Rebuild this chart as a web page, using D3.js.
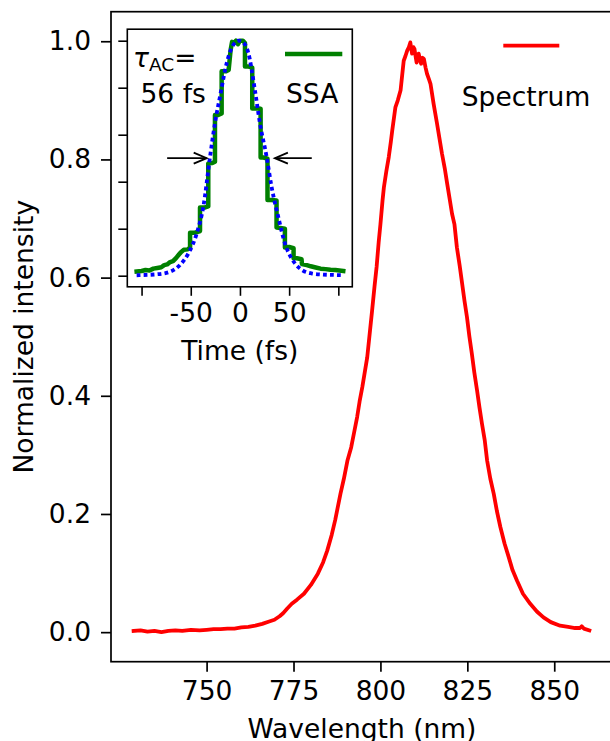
<!DOCTYPE html>
<html>
<head>
<meta charset="utf-8">
<script src="https://cdn.jsdelivr.net/npm/d3@7"></script>
<style>
  html, body { margin: 0; padding: 0; background: #fff; }
  svg { display: block; }
  text { font-family: "DejaVu Sans", sans-serif; fill: #000; }
</style>
</head>
<body>
<script>
// ---------------- DATA ----------------
// Main spectrum: wavelength (nm) and normalized intensity
const wavelength = [729.0,731,733,735,737,739,741,743,745.5,748,750,752,754,756,758,760,762,764,766,768,769.5,771,772,773.2,774.5,776,778,780,782,783.5,784.7,786,787,788.5,789.5,790.5,791.6,792.5,793.3,794,794.8,795.5,796.2,797,797.6,798.3,798.9,799.5,800.0,800.6,801.0,801.7,802.4,803.0,803.4,804.3,805,805.8,806.3,806.7,807.2,807.7,808.2,808.6,809.1,809.5,809.8,810.1,810.4,810.7,811.0,811.4,811.7,812.1,812.5,813.0,813.4,814.0,814.4,815.3,816.3,817.0,817.7,818.5,819.2,820,820.6,821.3,822.0,822.8,823.5,824.2,824.9,825.6,826.3,827,827.8,828.5,829.2,830,830.7,831.6,832.6,833.5,834.5,835.7,836.9,838,839.3,841,843.1,845,846.9,849,851.7,854,856,857.4,857.9,858.5,860.1];
const spectrum = [0.002,0.003,0.001,0.002,0.000,0.002,0.003,0.002,0.004,0.003,0.004,0.005,0.005,0.006,0.006,0.008,0.009,0.011,0.014,0.018,0.021,0.027,0.032,0.040,0.048,0.055,0.065,0.080,0.099,0.118,0.138,0.165,0.190,0.234,0.260,0.290,0.313,0.340,0.364,0.390,0.415,0.440,0.465,0.510,0.544,0.585,0.618,0.660,0.690,0.730,0.753,0.780,0.804,0.830,0.849,0.888,0.900,0.917,0.945,0.967,0.975,0.984,0.990,0.998,0.979,0.990,0.987,0.975,0.964,0.972,0.979,0.968,0.962,0.972,0.970,0.955,0.945,0.935,0.928,0.894,0.860,0.835,0.810,0.785,0.759,0.730,0.708,0.690,0.651,0.620,0.590,0.560,0.533,0.500,0.471,0.440,0.409,0.380,0.353,0.325,0.290,0.260,0.234,0.205,0.178,0.150,0.127,0.105,0.087,0.065,0.048,0.035,0.025,0.017,0.011,0.009,0.007,0.007,0.010,0.006,0.003];

// Inset: SSA autocorrelation (stepped trace)
const ssaTime = [-105,-100,-96,-92,-88,-84,-80,-77,-74,-71,-68,-65,-62,-60,-57,-53,-50.7,-50.7,-46,-43,-40.6,-40.6,-36,-32.2,-32.2,-28,-25.4,-25.4,-22,-18.6,-18.6,-14,-11.5,-9.5,-8,-6,-4,-2,0,3,5.1,5.1,9,12.5,12.5,17,21,21,24,28,28,32,37.2,37.2,41,45.7,45.7,50,54.5,54.5,58,62.6,63,68,72,77,82,87,92,97,101,105];
const ssaValue = [0.018,0.020,0.024,0.022,0.030,0.033,0.036,0.045,0.048,0.058,0.062,0.075,0.090,0.100,0.110,0.112,0.120,0.183,0.183,0.186,0.190,0.290,0.290,0.295,0.478,0.480,0.485,0.684,0.684,0.690,0.870,0.870,0.875,0.960,0.995,0.990,1.000,0.985,1.000,1.000,0.990,0.890,0.890,0.885,0.712,0.712,0.710,0.503,0.503,0.498,0.322,0.322,0.320,0.205,0.203,0.200,0.120,0.122,0.117,0.074,0.074,0.070,0.050,0.045,0.040,0.035,0.030,0.028,0.025,0.024,0.022,0.020];

// Inset: fit (dotted)
const fitTime = [-105,-98,-84.5,-71,-60.9,-52.4,-43.9,-37.2,-30.4,-25.4,-20.3,-13.5,-6.8,-1.5,5,8.4,15.2,20.3,27.1,32.1,38.9,45.7,55.8,64,72.7,84,96.4,105];
const fitValue = [0.002,0.003,0.006,0.017,0.046,0.095,0.180,0.294,0.506,0.649,0.762,0.904,0.982,1.000,0.985,0.950,0.790,0.649,0.506,0.379,0.251,0.138,0.053,0.022,0.010,0.005,0.003,0.002];

const mainXTicks = [750, 775, 800, 825, 850];
const mainYTicks = [0.0, 0.2, 0.4, 0.6, 0.8, 1.0];
const insetXTicks = [-100, -50, 0, 50, 100];
const insetXTickLabels = ["", "-50", "0", "50", ""];
const insetYTicks = [0.0, 0.2, 0.4, 0.6, 0.8, 1.0];

// ---------------- DRAW ----------------
const W = 610, H = 741;
const FS = 26.5;
const svg = d3.select("body").append("svg").attr("width", W).attr("height", H);

// main axes box
const M = { left: 111, right: 613, top: 11.7, bottom: 661.7 };
const x = d3.scaleLinear().domain([722.5, 866.9]).range([M.left, M.right]);
const y = d3.scaleLinear().domain([-0.05, 1.05]).range([M.bottom, M.top]);

// spectrum line
const specData = wavelength.map((w, i) => [w, spectrum[i]]);
svg.append("path")
  .datum(specData)
  .attr("fill", "none")
  .attr("stroke", "#ff0000")
  .attr("stroke-width", 3.8)
  .attr("stroke-linejoin", "round")
  .attr("stroke-linecap", "square")
  .attr("d", d3.line().x(d => x(d[0])).y(d => y(d[1])));

// axes
const xAxis = d3.axisBottom(x).tickValues(mainXTicks).tickSize(10).tickPadding(9).tickFormat(d3.format("d"));
const yAxis = d3.axisLeft(y).tickValues(mainYTicks).tickSize(10).tickPadding(10).tickFormat(d3.format(".1f"));
const gx = svg.append("g").attr("transform", `translate(0,${M.bottom})`).call(xAxis);
const gy = svg.append("g").attr("transform", `translate(${M.left},0)`).call(yAxis);
[gx, gy].forEach(g => {
  g.select(".domain").remove();
  g.selectAll(".tick line").attr("stroke", "#000").attr("stroke-width", 1.7);
  g.selectAll(".tick text").attr("font-size", FS).attr("font-family", "DejaVu Sans").attr("fill", "#000");
});
// frame
svg.append("rect")
  .attr("x", M.left).attr("y", M.top)
  .attr("width", M.right - M.left).attr("height", M.bottom - M.top)
  .attr("fill", "none").attr("stroke", "#000").attr("stroke-width", 1.7);

// axis labels
svg.append("text")
  .attr("x", (M.left + M.right) / 2).attr("y", 737.5)
  .attr("text-anchor", "middle").attr("font-size", FS)
  .text("Wavelength (nm)");
svg.append("text")
  .attr("transform", `translate(33,${(M.top + M.bottom) / 2}) rotate(-90)`)
  .attr("text-anchor", "middle").attr("font-size", FS)
  .text("Normalized intensity");

// main legend
svg.append("line").attr("x1", 503.3).attr("x2", 559.3).attr("y1", 45.7).attr("y2", 45.7)
  .attr("stroke", "#ff0000").attr("stroke-width", 3.8);
svg.append("text").attr("x", 461.8).attr("y", 106).attr("font-size", FS).text("Spectrum");

// ---------------- INSET ----------------
const I = { left: 127.3, right: 352.3, top: 29.2, bottom: 286.8 };
const xi = d3.scaleLinear().domain([-114.5, 114.2]).range([I.left, I.right]);
const yi = d3.scaleLinear().domain([-0.05, 1.05]).range([287.45, 28.95]);

svg.append("rect")
  .attr("x", I.left).attr("y", I.top)
  .attr("width", I.right - I.left).attr("height", I.bottom - I.top)
  .attr("fill", "#fff");

const ssaData = ssaTime.map((t, i) => [t, ssaValue[i]]);
svg.append("path")
  .datum(ssaData)
  .attr("fill", "none")
  .attr("stroke", "#008000")
  .attr("stroke-width", 4.5)
  .attr("stroke-linejoin", "round")
  .attr("stroke-linecap", "square")
  .attr("d", d3.line().x(d => xi(d[0])).y(d => yi(d[1])));

const fitData = fitTime.map((t, i) => [t, fitValue[i]]);
svg.append("path")
  .datum(fitData)
  .attr("fill", "none")
  .attr("stroke", "#0000ff")
  .attr("stroke-width", 3.8)
  .attr("stroke-dasharray", "3.8,3.2")
  .attr("d", d3.line().curve(d3.curveMonotoneX).x(d => xi(d[0])).y(d => yi(d[1])));

// inset axes
const xiAxis = d3.axisBottom(xi).tickValues(insetXTicks).tickSize(9).tickPadding(7)
  .tickFormat((d, i) => insetXTickLabels[i]);
const yiAxis = d3.axisLeft(yi).tickValues(insetYTicks).tickSize(9).tickFormat("");
const gxi = svg.append("g").attr("transform", `translate(0,${I.bottom})`).call(xiAxis);
const gyi = svg.append("g").attr("transform", `translate(${I.left},0)`).call(yiAxis);
[gxi, gyi].forEach(g => {
  g.select(".domain").remove();
  g.selectAll(".tick line").attr("stroke", "#000").attr("stroke-width", 1.6);
  g.selectAll(".tick text").attr("font-size", FS).attr("font-family", "DejaVu Sans").attr("fill", "#000");
});
svg.append("rect")
  .attr("x", I.left).attr("y", I.top)
  .attr("width", I.right - I.left).attr("height", I.bottom - I.top)
  .attr("fill", "none").attr("stroke", "#000").attr("stroke-width", 1.6);

svg.append("text")
  .attr("x", (I.left + I.right) / 2).attr("y", 360)
  .attr("text-anchor", "middle").attr("font-size", FS)
  .text("Time (fs)");

// inset legend
svg.append("line").attr("x1", 285).attr("x2", 342.3).attr("y1", 54).attr("y2", 54)
  .attr("stroke", "#008000").attr("stroke-width", 4.5);
svg.append("text").attr("x", 286).attr("y", 102.7).attr("font-size", FS).text("SSA");

// tau annotation
const tau = svg.append("text").attr("x", 133).attr("y", 66.5).attr("font-size", FS);
tau.append("tspan").attr("font-style", "italic").text("τ");
tau.append("tspan").attr("font-size", 18.5).attr("dy", 4).text("AC");
tau.append("tspan").attr("dy", -4).text("=");
svg.append("text").attr("x", 140.5).attr("y", 103.3).attr("font-size", FS).text("56 fs");

// arrows at half maximum
function arrow(x1, x2, yy) {
  const dir = Math.sign(x2 - x1);
  const g = svg.append("g").attr("stroke", "#000").attr("stroke-width", 1.8).attr("fill", "none");
  g.append("line").attr("x1", x1).attr("x2", x2).attr("y1", yy).attr("y2", yy);
  g.append("path").attr("d", `M${x2 - dir * 13},${yy - 5.5}L${x2},${yy}L${x2 - dir * 13},${yy + 5.5}`);
}
const halfY = yi(0.5);
arrow(xi(-74), xi(-33.8), halfY);
arrow(xi(73), xi(35.5), halfY);
</script>
</body>
</html>
